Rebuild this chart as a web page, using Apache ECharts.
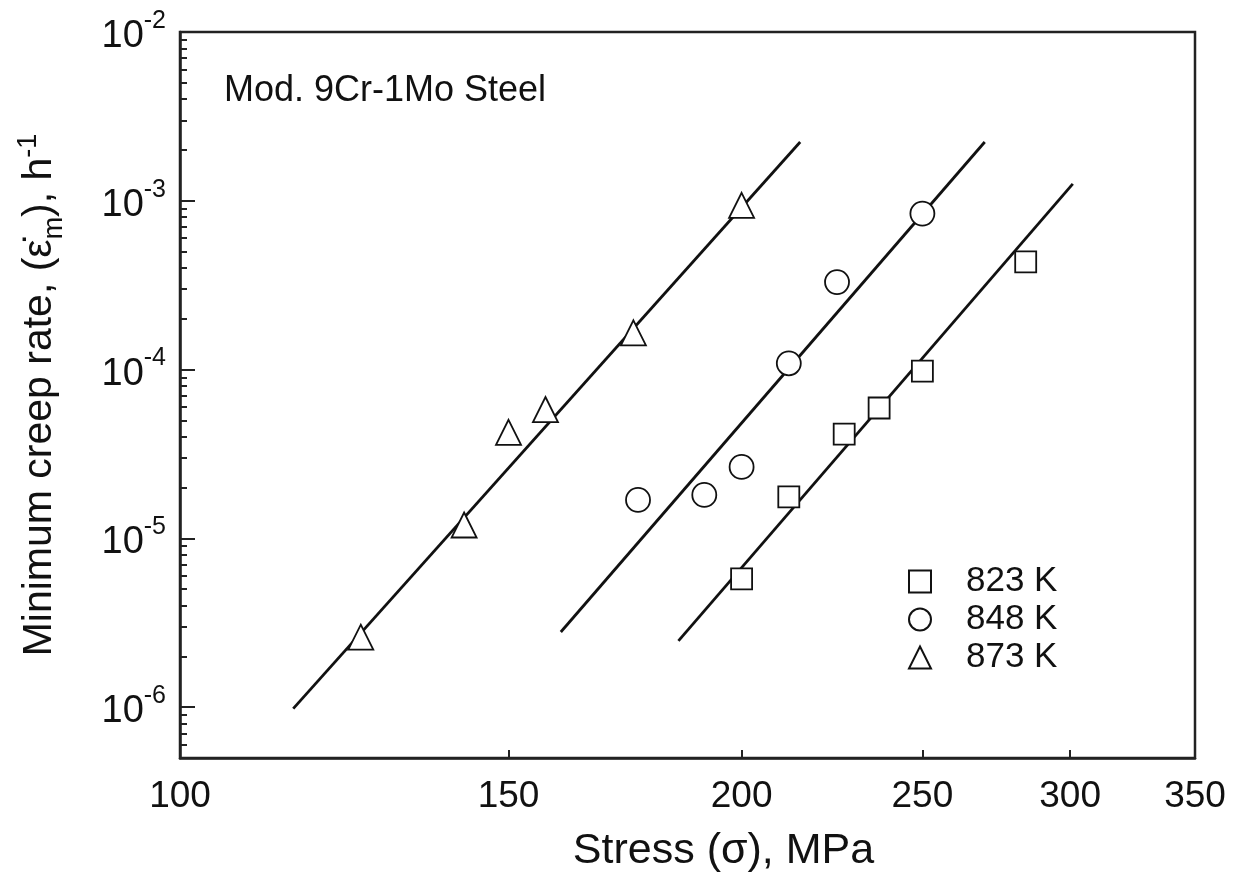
<!DOCTYPE html>
<html>
<head>
<meta charset="utf-8">
<title>Minimum creep rate - Mod. 9Cr-1Mo Steel</title>
<script src="https://cdn.jsdelivr.net/npm/echarts@6/dist/echarts.min.js"></script>
<style>
    html, body { margin: 0; padding: 0; background: #fff; }
    #main { width: 1241px; height: 888px; }
</style>
</head>
<body>
<div id="main"></div>
<script>
// values: stress (MPa) / minimum creep rate (1/h)
var stress823 = [200, 212, 227, 237, 250, 284];
var rate823 = [5.75e-6, 1.76e-5, 4.15e-5, 5.92e-5, 9.8e-5, 4.35e-4];
var stress848 = [176, 191, 200, 212, 225, 250];
var rate848 = [1.69e-5, 1.81e-5, 2.65e-5, 1.09e-4, 3.3e-4, 8.4e-4];
var stress873 = [125, 142, 150, 157, 175, 200];
var rate873 = [2.6e-6, 1.2e-5, 4.25e-5, 5.8e-5, 1.65e-4, 9.4e-4];

// fitted lines, end points
var fitStress823 = [185, 301];
var fitRate823 = [2.47e-6, 1.26e-3];
var fitStress848 = [160, 270];
var fitRate848 = [2.79e-6, 2.23e-3];
var fitStress873 = [115, 215];
var fitRate873 = [9.8e-7, 2.23e-3];

// axis ticks
var xTicks = [100, 150, 200, 250, 300, 350];
var xInnerTicks = [150, 200, 250, 300];
var yDecades = [1e-6, 1e-5, 1e-4, 1e-3, 1e-2];
var yMinor = [];
[1e-7, 1e-6, 1e-5, 1e-4, 1e-3].forEach(function (d) {
    for (var k = 2; k <= 9; k++) {
        var v = d * k;
        if (v >= 5e-7 && v <= 1e-2) yMinor.push(v);
    }
});

function pairs(xs, ys) {
    return xs.map(function (x, i) { return [x, ys[i]]; });
}

var FONT = 'Liberation Sans, Arial, sans-serif';
var INK = '#111';

var dom = document.getElementById('main');
var myChart = echarts.init(dom);

function fitLine(xs, ys) {
    return {
        type: 'line',
        data: pairs(xs, ys),
        showSymbol: false,
        symbol: 'none',
        silent: true,
        z: 1,
        lineStyle: { color: INK, width: 2.8 }
    };
}

function marks(name, symbol, size, xs, ys) {
    return {
        name: name,
        type: 'scatter',
        symbol: symbol,
        symbolSize: size,
        z: 3,
        itemStyle: { color: '#fff', borderColor: INK, borderWidth: 1.8, opacity: 1 },
        data: pairs(xs, ys)
    };
}

var option = {
    backgroundColor: '#fff',
    animation: false,
    textStyle: { fontFamily: FONT, color: INK },
    title: {
        text: 'Mod. 9Cr-1Mo Steel',
        left: 219,
        top: 68,
        textStyle: { fontFamily: FONT, fontSize: 36, fontWeight: 'normal', color: INK }
    },
    legend: {
        data: ['823 K', '848 K', '873 K'],
        orient: 'vertical',
        left: 903,
        top: 559,
        itemWidth: 22,
        itemHeight: 22,
        itemGap: 3,
        textStyle: { fontFamily: FONT, fontSize: 35, color: INK, padding: [0, 0, 0, 30] }
    },
    grid: {
        left: 180,
        right: 46,
        top: 32,
        bottom: 130,
        show: true,
        borderColor: '#222',
        borderWidth: 2.5,
        backgroundColor: 'transparent'
    },
    xAxis: {
        type: 'log',
        logBase: 10,
        min: 100,
        max: 350,
        name: 'Stress (σ), MPa',
        nameLocation: 'middle',
        nameGap: 72,
        nameTextStyle: { fontFamily: FONT, fontSize: 43, color: INK, padding: [0, 0, 0, 72] },
        axisLine: { lineStyle: { color: '#222', width: 2.5 } },
        axisTick: { inside: true, length: 8, customValues: xInnerTicks, lineStyle: { color: '#222', width: 2 } },
        axisLabel: { customValues: xTicks, fontSize: 37, margin: 20, color: INK, fontFamily: FONT },
        splitLine: { show: false }
    },
    yAxis: [{
        type: 'log',
        logBase: 10,
        min: 5e-7,
        max: 1e-2,
        name: '{n|Minimum creep rate, (}{e|ε̇}{sub|m}{n|), h}{sup|-1}',
        nameLocation: 'middle',
        nameGap: 112,
        nameRotate: 90,
        nameTextStyle: {
            fontFamily: FONT,
            color: INK,
            rich: {
                n: { fontSize: 41, fontFamily: FONT, color: INK, verticalAlign: 'bottom', padding: [0, 0, 8, 0] },
                e: { fontSize: 41, fontFamily: FONT, color: INK, verticalAlign: 'bottom', padding: [0, 0, 8, 0] },
                sub: { fontSize: 27, fontFamily: FONT, color: INK, verticalAlign: 'bottom' },
                sup: { fontSize: 27, fontFamily: FONT, color: INK, verticalAlign: 'top', padding: [0, 0, 26, 0] }
            }
        },
        axisLine: { lineStyle: { color: '#222', width: 2.5 } },
        axisTick: { inside: true, length: 15, customValues: yDecades, lineStyle: { color: '#222', width: 2 } },
        axisLabel: {
            customValues: yDecades,
            margin: 14,
            formatter: function (v) {
                return '{b|10}{s|' + Math.round(Math.log10(v)) + '}';
            },
            rich: {
                b: { fontSize: 38, fontFamily: FONT, color: INK, verticalAlign: 'bottom' },
                s: { fontSize: 25, fontFamily: FONT, color: INK, verticalAlign: 'top', padding: [0, 0, 22, 0] }
            }
        },
        splitLine: { show: false }
    }, {
        // minor ticks only
        type: 'log',
        logBase: 10,
        min: 5e-7,
        max: 1e-2,
        position: 'left',
        axisLine: { show: false },
        axisTick: { inside: true, length: 7, customValues: yMinor, lineStyle: { color: '#222', width: 2 } },
        axisLabel: { show: false },
        splitLine: { show: false }
    }],
    series: [
        fitLine(fitStress823, fitRate823),
        fitLine(fitStress848, fitRate848),
        fitLine(fitStress873, fitRate873),
        marks('823 K', 'rect', 21, stress823, rate823),
        marks('848 K', 'circle', 24, stress848, rate848),
        marks('873 K', 'triangle', 25, stress873, rate873)
    ]
};

myChart.setOption(option, true);
window.onresize = myChart.resize;
</script>
</body>
</html>
